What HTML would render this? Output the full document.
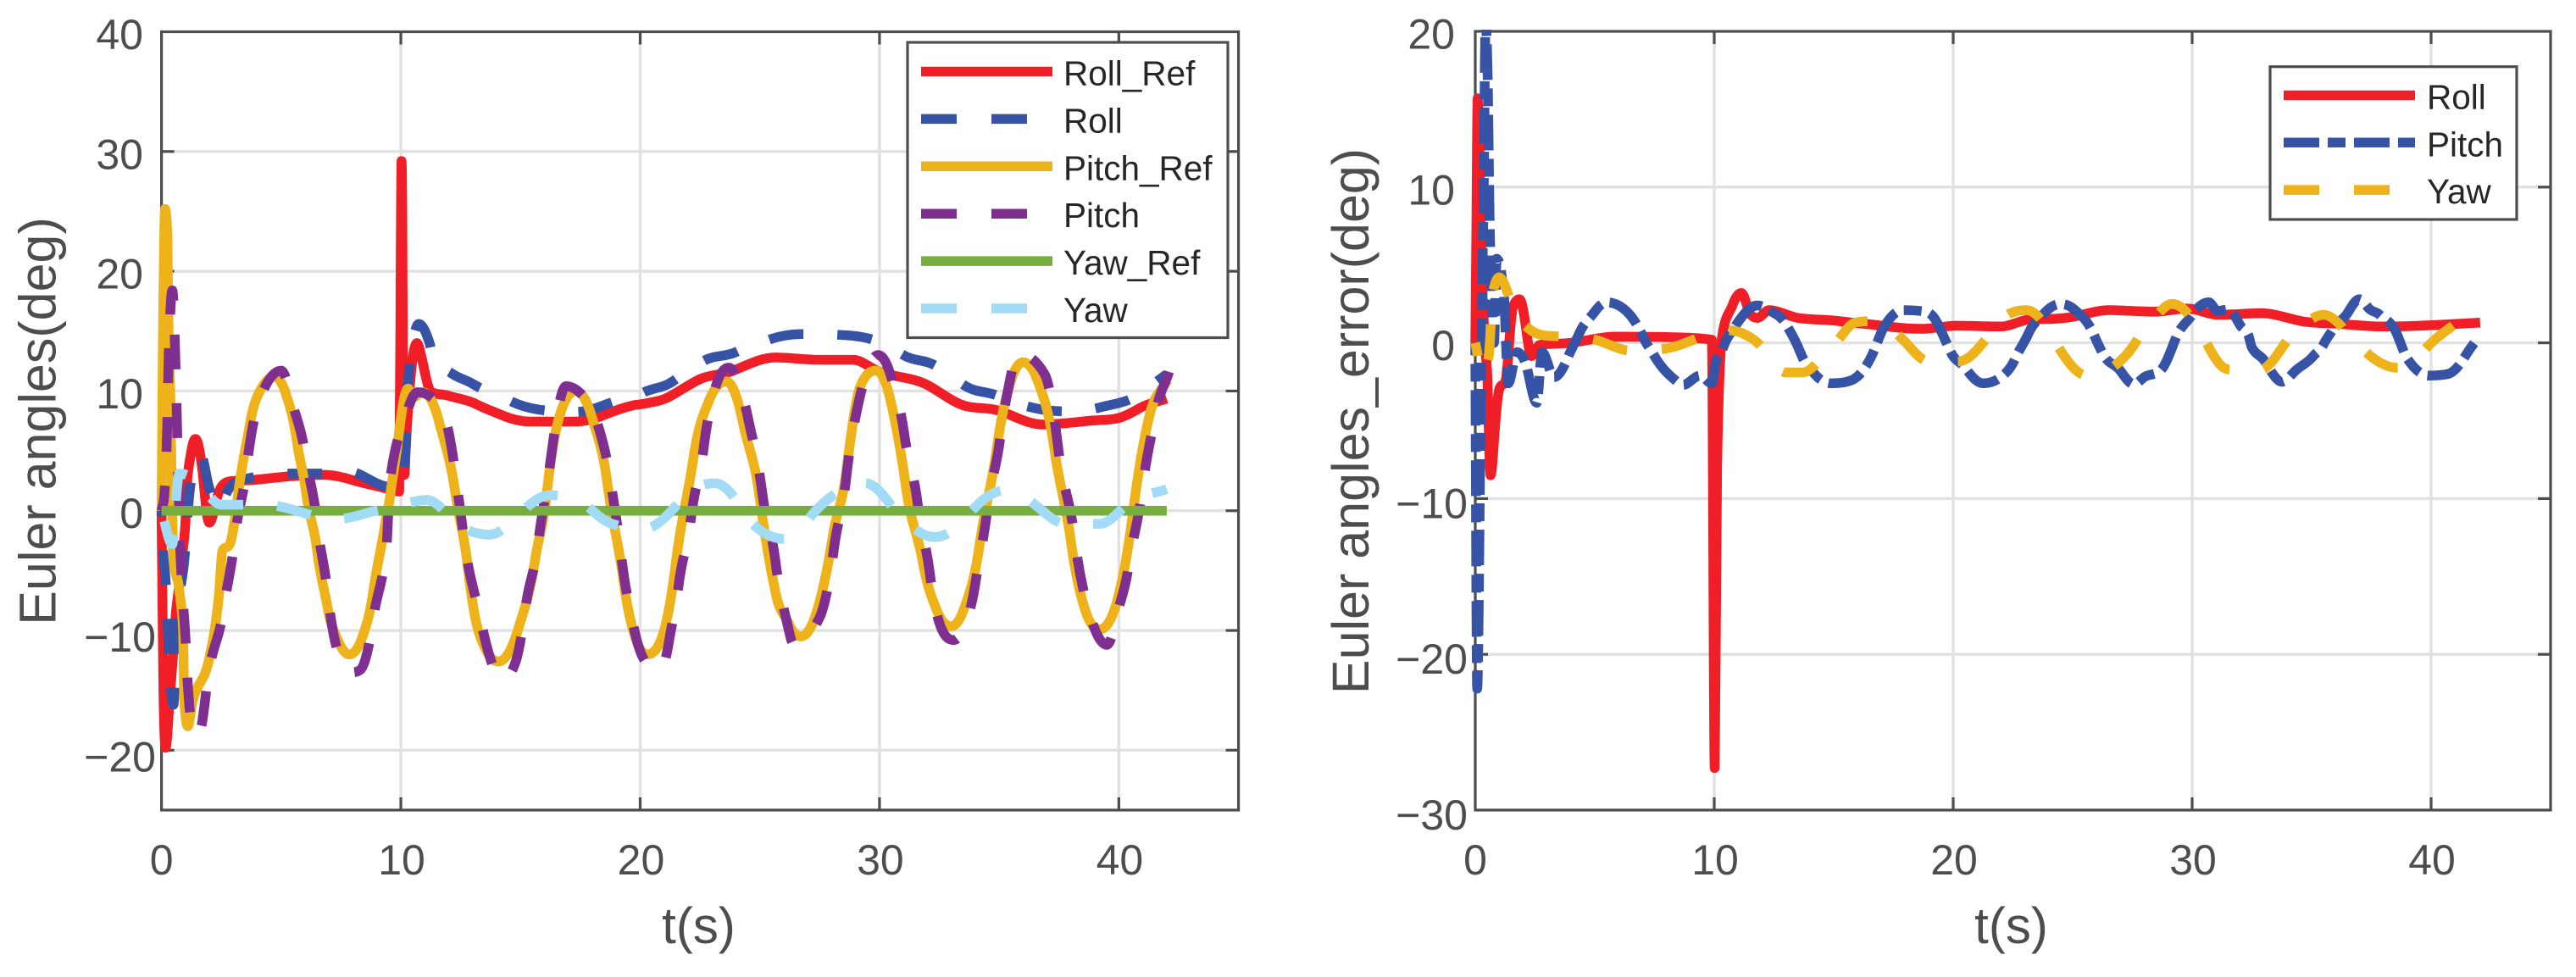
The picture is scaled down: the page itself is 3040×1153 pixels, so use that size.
<!DOCTYPE html>
<html lang="en">
<head>
<meta charset="utf-8">
<title>Euler angles and Euler angle errors</title>
<style>
html,body{margin:0;padding:0;background:#fff;}
svg{display:block;font-family:"Liberation Sans",sans-serif;}
</style>
</head>
<body>
<svg id="figure" xmlns="http://www.w3.org/2000/svg" width="3040" height="1153" viewBox="0 0 3040 1153">
<rect x="0" y="0" width="3040" height="1153" fill="#ffffff"/>
</svg>
<script>
// ---------- chart data: [time in s, value in deg] ----------
const xTicks = [0, 10, 20, 30, 40];
const leftYTicks = [-20, -10, 0, 10, 20, 30, 40];
const rightYTicks = [-30, -20, -10, 0, 10, 20];

const rollRef = [[0,0],[0.08,-15],[0.17,-19.8],[0.3,-17],[0.55,-9.9],[0.8,-5],[1,-1],[1.05,2],[1.25,5],[1.42,6],[1.7,3.5],[1.85,0.5],[2,-1],[2.25,0.5],[2.5,2],[2.85,2.45],[4,2.6],[5.5,2.9],[6.8,3],[8,2.55],[9.4,1.85],[9.93,1.6],[9.98,15],[10.03,29.2],[10.06,25],[10.1,8],[10.15,3],[10.2,5],[10.4,11],[10.67,14],[10.9,12.5],[11.27,9.9],[12,9.6],[13.15,8.9],[14.2,8],[15.4,7.45],[17.3,7.45],[18.5,8],[19.7,8.8],[20.16,8.93],[21.2,9.5],[22.4,10.9],[23.9,11.7],[25.65,12.8],[27.5,12.6],[28.9,12.6],[29.9,11.7],[32,10.5],[33.5,8.8],[34.9,8.4],[36.8,7.2],[38.7,7.5],[39.9,7.7],[40.9,8.6],[42,9.35]];

const roll = [[0,0],[0.02,-1.9],[0.21,-7.2],[0.33,-13],[0.5,-16.2],[0.63,-9.3],[0.98,-3.5],[1.22,2.3],[1.65,4.6],[1.98,2],[2.45,0.2],[2.7,1.4],[3.05,2.3],[3.6,2.7],[5.4,3.1],[6.5,3.1],[7.77,3.3],[9.24,2.1],[9.9,1.9],[10,2],[10.2,5],[10.3,10.5],[10.45,13.5],[10.75,15.6],[11.2,14],[11.4,12.3],[12.1,11.5],[13,10.6],[14.45,9.3],[15.7,8.47],[17.3,8.25],[18.6,8.9],[20.16,9.9],[21.36,10.8],[22.64,12.5],[24,13.25],[25.4,14.3],[26.76,14.75],[28.2,14.7],[29.7,14.3],[31,13],[32.4,12.05],[33.6,10.4],[35,9.55],[36.5,8.56],[37.8,8.3],[39.3,8.67],[40.75,9.6],[42,11.4]];

const pitchRef = [[0,0],[0.04,10],[0.08,18],[0.15,25.2],[0.25,22.8],[0.27,18],[0.39,7],[0.5,-4],[0.74,-6.6],[0.9,-9.9],[0.95,-15.9],[1.1,-18],[1.3,-15.9],[2,-12.3],[2.4,-7],[2.55,-3.3],[2.85,-2.8],[3.2,1.4],[3.7,7.3],[4.05,9.75],[4.7,11.2],[5.2,9.75],[5.65,5.85],[6.05,1.4],[6.5,-3.3],[6.95,-8.2],[7.3,-10.5],[7.85,-12],[8.4,-10.5],[8.85,-6.7],[9.35,-1],[9.55,1.2],[9.9,6.1],[10.3,10.2],[10.55,9.5],[10.9,9.9],[11.6,7.4],[12.3,1.2],[12.8,-4.7],[13.25,-10.1],[14.07,-12.6],[14.9,-9.9],[15.6,-4.2],[16.1,1.5],[16.6,7.7],[17.3,10],[18,7.7],[18.65,2],[19.3,-5.8],[19.85,-10.9],[20.3,-12],[20.84,-10.95],[21.5,-4.2],[22.2,4.1],[22.9,9.3],[23.6,10.8],[24.3,7.3],[25,1],[25.65,-6.8],[26.2,-9.4],[26.7,-10.5],[27.3,-8.9],[28.05,-2.1],[28.6,3.1],[29.2,10.4],[29.85,11.7],[30.45,9.3],[31.1,2.05],[31.8,-4.2],[32.4,-8.35],[33,-9.65],[33.5,-8.35],[34.2,-2.6],[34.9,5.2],[35.5,10.9],[36,12.4],[36.6,10.9],[37.3,5.2],[38,-2.6],[38.6,-8.35],[39.2,-9.9],[39.8,-8.35],[40.6,0],[41.26,7.8],[42.03,10.9]];

const pitch = [[0,0],[0.12,1.4],[0.24,7.2],[0.3,13],[0.45,18.4],[0.59,11.8],[0.66,6],[0.75,-1],[0.84,-5.6],[1.02,-11.4],[1.2,-17.1],[1.38,-18.6],[1.6,-18.4],[1.95,-13.8],[2.6,-8.1],[3.05,-2.5],[3.55,3.5],[4.07,9.1],[5,11.7],[5.4,9.5],[6,4.7],[6.5,-1],[6.95,-7],[7.4,-12],[7.95,-13.5],[8.3,-13.3],[8.85,-9],[9.4,-3],[9.55,2.6],[10.3,8.5],[10.7,9.9],[11.7,8.5],[12.3,2.8],[12.65,-2.5],[13.3,-8.8],[14.25,-14.1],[14.8,-12.6],[15.2,-8.2],[15.75,-2.5],[16.2,3.4],[16.9,10.4],[17.6,9.6],[18.1,8],[18.8,2],[19.2,-3.6],[19.75,-9.9],[20.4,-13],[20.84,-13.3],[21.2,-10.95],[21.6,-6.3],[22.13,-0.5],[22.65,5.2],[23.16,10.4],[23.7,11.95],[24.5,7.8],[25.1,1.5],[25.65,-4.2],[26.2,-9.9],[26.4,-11.1],[27.5,-8.9],[28.1,-3.1],[28.6,2.6],[29.1,8.8],[29.94,13],[30.45,11.4],[31.05,6.2],[31.6,0.5],[32.1,-5.2],[32.6,-9.9],[33.1,-10.8],[33.5,-9.9],[34.05,-5.5],[34.5,0],[35.05,6.2],[35.5,11.4],[35.8,13.1],[36.9,11.4],[37.5,4.7],[38.1,-1.6],[38.6,-7.3],[39.5,-11.2],[39.9,-8.9],[40.4,-4.7],[41,2.05],[41.5,7.8],[42.1,11.6]];

const yawRef = [[0,0],[42,0]];

const yaw = [[0,0],[0.45,-2.8],[0.58,0.2],[0.75,3.1],[1.4,2.6],[2.5,0.5],[4.3,0.5],[5.8,-0.1],[7.3,-0.7],[8.75,-0.1],[9.7,0.3],[11.1,0.9],[12.4,-1.15],[13.7,-2],[15,-0.2],[16.2,1.3],[17.5,0.75],[18.7,-1],[20.16,-1.5],[21.36,0.1],[22.5,2.06],[23.1,2.3],[23.85,1.3],[24.7,-1.1],[26,-2.35],[27.1,-0.55],[28.2,1.5],[29.4,2.3],[30.5,0.4],[31.6,-1.7],[32.3,-2.2],[33,-1.7],[34.05,0.4],[35.25,1.7],[36.5,0.5],[37.8,-1.1],[39.2,-1.1],[40.5,0.75],[42,1.8]];

const rollError = [[0,0],[0.05,8],[0.1,15.7],[0.15,14],[0.25,6],[0.4,0],[0.5,-2],[0.64,-8.5],[0.8,-5.95],[1,-3],[1.27,-2.4],[1.45,0.6],[1.6,2.4],[1.85,2.8],[2.1,1.2],[2.35,-0.85],[2.7,-0.13],[4,0],[5.9,0.4],[8.5,0.35],[9.9,0.2],[10.02,-27.3],[10.12,-8],[10.33,0.4],[10.76,2.4],[11.14,3.2],[11.53,1.8],[11.8,1.6],[12.3,2.1],[13.5,1.6],[15.2,1.4],[17,1.1],[18.7,0.9],[20.14,1.1],[22,1.05],[23.2,1.5],[24.3,1.55],[25.1,1.7],[26.5,2.1],[28.4,2],[29.8,2.2],[31.1,1.8],[32.9,1.9],[34.75,1.35],[36.3,1.2],[38,1.05],[40.25,1.15],[42.05,1.3]];

const pitchError = [[0,0],[0.08,-22.2],[0.2,-8],[0.3,4],[0.37,12],[0.43,20.5],[0.52,17],[0.6,8],[0.72,2],[0.78,0],[0.9,5.4],[1.2,3],[1.38,-2.6],[1.75,-0.6],[2.1,-1.3],[2.57,-3.85],[2.8,-0.6],[3.3,-2.2],[3.9,-0.85],[4.35,0.6],[5,2],[5.5,2.6],[6.35,2],[7,0.45],[7.5,-0.85],[8.45,-2.5],[8.7,-2.7],[9.4,-2.1],[9.9,-2.6],[10.07,-1.2],[10.4,-0.2],[10.76,0.8],[11.8,2.4],[12.3,2.1],[13,1.2],[13.6,-0.6],[14.2,-2],[14.9,-2.6],[15.75,-2.4],[16.6,-0.8],[17.1,1],[17.9,2.1],[18.84,2],[19.36,1.2],[19.9,-0.6],[20.5,-1.6],[21.25,-2.6],[22,-2.2],[22.6,-1],[23.15,0.6],[23.75,1.8],[24.5,2.5],[25.1,2.1],[25.8,0.8],[26.3,-0.8],[27,-1.8],[27.56,-2.66],[28,-2.2],[28.69,-1.76],[29.3,0.24],[29.95,1.7],[30.7,2.6],[31.06,2.05],[31.5,2.14],[32,1.15],[32.35,0.5],[32.5,-0.3],[33.05,-1.2],[33.76,-2.5],[34.25,-1.9],[35.07,-0.85],[35.5,-0.1],[35.9,0.9],[36.5,1.9],[37,2.8],[37.4,2.2],[37.85,1.8],[38.5,0.8],[39,-1],[39.9,-2.1],[40.7,-2],[41.45,-0.8],[42,0.4]];

const yawError = [[0,0],[0.3,-2],[0.55,-1],[0.65,1.2],[0.75,3.3],[1,4.2],[1.4,3],[1.75,1.8],[2.25,0.9],[2.9,0.47],[3.65,0.4],[5,0.2],[6.5,-0.5],[7.85,-0.4],[9.3,0.3],[10.6,0.8],[11.2,0.6],[12,-0.3],[13,-1.9],[13.7,-1.9],[14.4,-1.1],[15.3,0.4],[15.9,1.3],[16.6,1.4],[17.9,0.2],[19,-1.2],[20.2,-1.2],[21.4,0.3],[22.4,1.9],[23.05,2.1],[23.75,1.3],[24.45,-0.4],[25.6,-2.1],[26.65,-1.6],[27.7,0.2],[28.69,2.05],[29.15,2.5],[29.75,2],[30.57,0.1],[31.5,-1.7],[32.8,-1.76],[33.9,0],[34.96,1.5],[35.5,1.8],[36.25,1.05],[37.2,-0.5],[38.6,-1.6],[39.75,-0.4],[41,1.2],[42,1.8]];

// ---------- styling and layout ----------
const RED = '#f01f27', BLUE = '#3653a5', YELLOW = '#eeb31b', PURPLE = '#7f2f90', GREEN = '#78ae40', SKY = '#a1dbf5';
const DASH = '41 40', DASH_WIDE = '42 41', DASHDOT = '42 10 21 10';
const svg = document.getElementById('figure');
const NS = 'http://www.w3.org/2000/svg';

function make(tag, attrs, parent, txt) {
  const el = document.createElementNS(NS, tag);
  for (const k in attrs) el.setAttribute(k, attrs[k]);
  if (txt !== undefined) el.textContent = txt;
  (parent || svg).appendChild(el);
  return el;
}

// monotone cubic path through data points, so spikes don't overshoot
function curve(px) {
  const n = px.length;
  if (n < 3) return px.map((p, i) => (i ? 'L' : 'M') + p[0].toFixed(2) + ' ' + p[1].toFixed(2)).join('');
  const m = new Array(n), s = new Array(n - 1), h = new Array(n - 1);
  for (let i = 0; i < n - 1; i++) { h[i] = px[i + 1][0] - px[i][0]; s[i] = (px[i + 1][1] - px[i][1]) / h[i]; }
  m[0] = s[0]; m[n - 1] = s[n - 2];
  for (let i = 1; i < n - 1; i++) {
    if (s[i - 1] * s[i] <= 0) m[i] = 0;
    else {
      const a = Math.abs(s[i - 1]), b = Math.abs(s[i]);
      m[i] = Math.sign(s[i]) * 2 * a * b / (a + b) * Math.min(1.5, (h[i - 1] + h[i]) / (2 * Math.max(h[i - 1], h[i])) + 0.5);
    }
  }
  let d = 'M' + px[0][0].toFixed(2) + ' ' + px[0][1].toFixed(2);
  for (let i = 0; i < n - 1; i++) {
    const c = h[i] / 3;
    d += 'C' + (px[i][0] + c).toFixed(2) + ' ' + (px[i][1] + m[i] * c).toFixed(2) + ' ' +
         (px[i + 1][0] - c).toFixed(2) + ' ' + (px[i + 1][1] - m[i + 1] * c).toFixed(2) + ' ' +
         px[i + 1][0].toFixed(2) + ' ' + px[i + 1][1].toFixed(2);
  }
  return d;
}

// shift a dash pattern so that a dash starts at the given x on the path
function anchorDash(path, xTarget, period) {
  let lo = 0, hi = path.getTotalLength();
  for (let i = 0; i < 40; i++) {
    const mid = (lo + hi) / 2;
    if (path.getPointAtLength(mid).x < xTarget) lo = mid; else hi = mid;
  }
  path.setAttribute('stroke-dashoffset', (period - (lo % period)).toFixed(2));
}

function drawPanel(cfg) {
  const g = make('g', {});
  
  
  const xS = t => cfg.left + (t - 0) / 45 * (cfg.right - cfg.left);
  const yS = v => cfg.bottom - (v - cfg.yMin) / (cfg.yMax - cfg.yMin) * (cfg.bottom - cfg.top);

  // grid
  xTicks.forEach(t => {
    if (t === 0) return;
    const l = make('line', { x1: xS(t), x2: xS(t), y1: cfg.top, y2: cfg.bottom, stroke: '#e1e1e1', 'stroke-width': 3.4 }, g);
    
    
  });
  cfg.yTicks.forEach(v => {
    if (v === cfg.yMax || v === cfg.yMin) return;
    const l = make('line', { x1: cfg.left, x2: cfg.right, y1: yS(v), y2: yS(v), stroke: '#e1e1e1', 'stroke-width': 3.4 }, g);
    
    
  });

  // ticks
  const AX = '#4d4d4d', TL = 15;
  xTicks.forEach(t => {
    if (t === 0) return;
    const a = make('line', { x1: xS(t), x2: xS(t), y1: cfg.bottom, y2: cfg.bottom - TL, stroke: AX, 'stroke-width': 3.2 }, g);
    
    
    const b = make('line', { x1: xS(t), x2: xS(t), y1: cfg.top, y2: cfg.top + TL, stroke: AX, 'stroke-width': 3.2 }, g);
    
    
  });
  cfg.yTicks.forEach(v => {
    if (v === cfg.yMax || v === cfg.yMin) return;
    const a = make('line', { x1: cfg.left, x2: cfg.left + TL, y1: yS(v), y2: yS(v), stroke: AX, 'stroke-width': 3.2 }, g);
    
    
    const b = make('line', { x1: cfg.right, x2: cfg.right - TL, y1: yS(v), y2: yS(v), stroke: AX, 'stroke-width': 3.2 }, g);
    
    
  });

  // axes box
  const box = make('rect', { x: cfg.left, y: cfg.top, width: cfg.right - cfg.left, height: cfg.bottom - cfg.top, fill: 'none', stroke: AX, 'stroke-width': 3.2 }, g);
  
  

  // tick labels
  xTicks.forEach(t => {
    const el = make('text', { x: xS(t) + (t === 0 ? 0 : 1), y: 1032, 'text-anchor': 'middle', 'font-size': 50, fill: AX }, g, String(t));
    
    
  });
  cfg.yTicks.forEach(v => {
    const neg = v < 0;
    const el = make('text', {
      x: neg ? cfg.labelNegRight : cfg.labelPosRight,
      y: yS(v) + (neg ? cfg.labelNegDy : 20.5),
      'text-anchor': 'end', 'font-size': 50, fill: AX
    }, g, neg ? '\u2212' + Math.abs(v) : String(v));
    
    
  });

  // axis titles
  const xt = make('text', { x: cfg.xTitleX, y: 1113, 'text-anchor': 'middle', 'font-size': 60, fill: AX }, g, 't(s)');
  
  
  const yt = make('text', { x: 0, y: 0, 'text-anchor': 'middle', 'font-size': 61, fill: AX, transform: 'translate(' + cfg.yTitleX + ' 497) rotate(-90)' }, g, cfg.yTitle);
  
  

  // clip top so the spikes stop at the axes edge
  const clipId = cfg.name + '-clip';
  const defs = make('defs', {}, g);
  const cp = make('clipPath', { id: clipId }, defs);
  make('rect', { x: cfg.left - 30, y: cfg.top - 2, width: cfg.right - cfg.left + 60, height: cfg.bottom - cfg.top + 4 }, cp);

  // series
  const sg = make('g', { 'clip-path': 'url(#' + clipId + ')' }, g);
  cfg.series.forEach(s => {
    const pts = s.data.map(d => [xS(d[0]), yS(d[1])]);
    const p = make('path', {
      d: curve(pts), fill: 'none', stroke: s.color, 'stroke-width': 11.5,
      'stroke-linejoin': 'round', 'stroke-linecap': 'butt'
    }, sg);
    if (s.dash) {
      p.setAttribute('stroke-dasharray', s.dash);
      const period = s.dash.split(' ').reduce((a, b) => a + Number(b), 0);
      anchorDash(p, xS(s.dashStart), period);
    }
    
    
  });

  // legend
  const L = cfg.legend;
  const lg = make('g', {}, g);
  
  
  const lb = make('rect', { x: L.x, y: L.y, width: L.w, height: L.h, fill: '#ffffff', stroke: AX, 'stroke-width': 3.2 }, lg);
  
  
  cfg.series.forEach((s, i) => {
    const ly = L.firstY + i * L.step;
    const sw = make('line', { x1: L.lineX1, x2: L.lineX2, y1: ly, y2: ly, stroke: s.color, 'stroke-width': 11.5 }, lg);
    if (s.dash) sw.setAttribute('stroke-dasharray', s.legendDash || s.dash);
    
    
    const tx = make('text', { x: L.textX, y: ly + 16, 'font-size': 40.5, fill: '#262626' }, lg, s.label);
    
    
  });
}

drawPanel({
  name: 'euler-angles-panel',
  left: 190.6, right: 1461.6, top: 37.5, bottom: 956,
  yMin: -25, yMax: 40, yTicks: leftYTicks,
  labelPosRight: 169, labelNegRight: 184, labelNegDy: 25,
  xTitleX: 824.5, yTitleX: 65.5, yTitle: 'Euler angles(deg)',
  series: [
    { id: 'roll-ref', label: 'Roll_Ref', color: RED, data: rollRef },
    { id: 'roll', label: 'Roll', color: BLUE, dash: DASH, legendDash: DASH_WIDE, dashStart: 28.22, data: roll },
    { id: 'pitch-ref', label: 'Pitch_Ref', color: YELLOW, data: pitchRef },
    { id: 'pitch', label: 'Pitch', color: PURPLE, dash: DASH, legendDash: DASH_WIDE, dashStart: 29.77, data: pitch },
    { id: 'yaw-ref', label: 'Yaw_Ref', color: GREEN, data: yawRef },
    { id: 'yaw', label: 'Yaw', color: SKY, dash: DASH, legendDash: DASH_WIDE, dashStart: 29.42, data: yaw }
  ],
  legend: { x: 1071, y: 50, w: 378, h: 348.5, firstY: 84.5, step: 55.9, lineX1: 1087, lineX2: 1242, textX: 1255 }
});

drawPanel({
  name: 'euler-angles-error-panel',
  left: 1741, right: 3010, top: 37, bottom: 956,
  yMin: -30, yMax: 20, yTicks: rightYTicks,
  labelPosRight: 1717, labelNegRight: 1732, labelNegDy: 23,
  xTitleX: 2373.5, yTitleX: 1615, yTitle: 'Euler angles_error(deg)',
  series: [
    { id: 'roll-error', label: 'Roll', color: RED, data: rollError },
    { id: 'pitch-error', label: 'Pitch', color: BLUE, dash: DASHDOT, dashStart: 28.69, data: pitchError },
    { id: 'yaw-error', label: 'Yaw', color: YELLOW, dash: DASH_WIDE, dashStart: 28.62, data: yawError }
  ],
  legend: { x: 2679, y: 78.7, w: 291, h: 180.3, firstY: 112.5, step: 55.8, lineX1: 2695, lineX2: 2850, textX: 2864 }
});
</script>
</body>
</html>
